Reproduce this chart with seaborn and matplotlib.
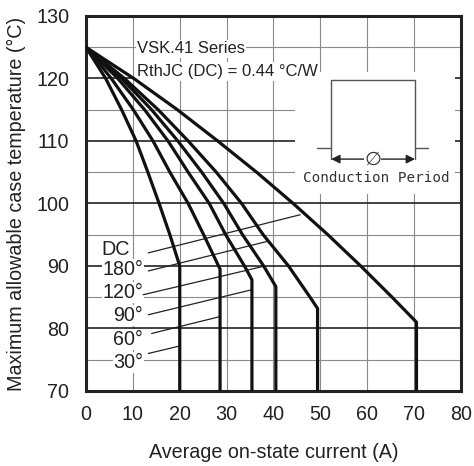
import matplotlib
matplotlib.use("Agg")
import matplotlib.pyplot as plt
import seaborn as sns
import pandas as pd
from matplotlib.patches import Rectangle
from matplotlib.ticker import MultipleLocator

# ---- data ----
series_names = ["30°", "60°", "90°", "120°", "180°", "DC"]
cur_30 = [0, 4.2, 7.6, 10.7, 13.2, 15.6, 17.9, 20.0, 20.0]
tmp_30 = [125, 120, 115, 110, 105, 100, 95, 90.0, 70]
cur_60 = [0, 5.4, 10.1, 14.3, 17.9, 21.8, 25.1, 28.6, 28.6]
tmp_60 = [125, 120, 115, 110, 105, 100, 95, 89.5, 70]
cur_90 = [0, 6.8, 12.5, 17.5, 21.8, 26.3, 29.8, 33.8, 35.4, 35.4]
tmp_90 = [125, 120, 115, 110, 105, 100, 95, 90, 87.8, 70]
cur_120 = [0, 7.6, 14.0, 19.6, 24.7, 29.4, 33.4, 37.9, 40.5, 40.5]
tmp_120 = [125, 120, 115, 110, 105, 100, 95, 90, 86.7, 70]
cur_180 = [0, 8.2, 15.4, 21.8, 27.8, 33.2, 37.8, 43.2, 47.8, 49.4, 49.4]
tmp_180 = [125, 120, 115, 110, 105, 100, 95, 90, 85, 83.2, 70]
cur_dc = [0, 10.2, 19.5, 28.1, 36.4, 44.2, 51.6, 58.6, 65.3, 70.5, 70.5]
tmp_dc = [125, 120, 115, 110, 105, 100, 95, 90, 85, 81.0, 70]

x_ticks = [0, 10, 20, 30, 40, 50, 60, 70, 80]
y_ticks = [70, 80, 90, 100, 110, 120, 130]

# label text, label anchor (right edge x, centre y), leader line start/end
label_x = [12.2, 12.2, 12.2, 12.2, 12.2, 9.4]
label_y = [74.6, 78.2, 82.1, 85.8, 89.4, 92.6]
lead_x0 = [13.3, 14.0, 13.3, 12.2, 13.3, 13.3]
lead_y0 = [76.0, 79.2, 82.2, 85.4, 89.2, 92.1]
lead_x1 = [20.0, 28.6, 35.4, 37.6, 38.5, 45.7]
lead_y1 = [77.2, 81.9, 86.2, 89.9, 93.9, 98.2]

curves = [(cur_30, tmp_30), (cur_60, tmp_60), (cur_90, tmp_90),
          (cur_120, tmp_120), (cur_180, tmp_180), (cur_dc, tmp_dc)]
rows = []
for name, (cx, ty) in zip(series_names, curves):
    for i, (a, b) in enumerate(zip(cx, ty)):
        rows.append({"series": name, "order": i, "I": a, "T": b})
df = pd.DataFrame(rows)

sns.set_style("white")
plt.rcParams["font.family"] = ["Liberation Sans", "DejaVu Sans"]

fig = plt.figure(figsize=(4.74, 4.66), dpi=100)
ax = fig.add_axes([0.1814, 0.161, 0.7912, 0.8047])

sns.lineplot(data=df, x="I", y="T", hue="series", units="series",
             estimator=None, sort=False, palette=["#111111"] * 6,
             linewidth=2.3, legend=False, ax=ax, zorder=4)

ax.set_xlim(0, 80)
ax.set_ylim(70, 130)
ax.set_xticks(x_ticks)
ax.set_yticks(y_ticks)
ax.yaxis.set_minor_locator(MultipleLocator(5))
ax.set_axisbelow(True)
ax.grid(which="major", axis="x", color="#8a8a8a", linewidth=0.8)
ax.grid(which="major", axis="y", color="#222222", linewidth=1.2)
ax.grid(which="minor", axis="y", color="#8a8a8a", linewidth=0.8)
ax.tick_params(axis="both", which="both", length=0, labelsize=14.2,
               colors="#222222")
ax.tick_params(axis="x", pad=10)
ax.tick_params(axis="y", pad=12)
for s in ax.spines.values():
    s.set_visible(True)
    s.set_linewidth(2.2)
    s.set_color("#222222")

ax.set_xlabel("Average on-state current (A)", fontsize=14.2, labelpad=14,
              color="#222222")
ax.set_ylabel("Maximum allowable case temperature (°C)", fontsize=14.2,
              labelpad=7, color="#222222")

# series labels + leader lines
for name, lx, ly, x0, y0, x1, y1 in zip(series_names, label_x, label_y,
                                        lead_x0, lead_y0, lead_x1, lead_y1):
    ax.text(lx, ly, name, ha="right", va="center", fontsize=14.2,
            color="#222222", zorder=3,
            bbox=dict(facecolor="white", edgecolor="none", pad=0.5))
    ax.plot([x0, x1], [y0, y1], color="#222222", linewidth=0.9, zorder=3)

# title annotations
ax.text(10.9, 124.0, "VSK.41 Series", fontsize=12, ha="left",
        va="baseline", color="#222222", zorder=3,
        bbox=dict(facecolor="white", edgecolor="none", pad=1.0))
ax.text(10.9, 120.4, "RthJC (DC) = 0.44 °C/W", fontsize=12, ha="left",
        va="baseline", color="#222222", zorder=3,
        bbox=dict(facecolor="white", edgecolor="none", pad=1.5))

# conduction period inset
ax.add_patch(Rectangle((44.6, 101.5), 34.1, 19.5, facecolor="white",
                       edgecolor="none", zorder=1.5))
pc = "#555555"
ax.plot([52.3, 52.3, 70.2, 70.2], [107.1, 119.8, 119.8, 107.1],
        color=pc, linewidth=1.0, zorder=3)
ax.plot([49.3, 52.3], [108.9, 108.9], color=pc, linewidth=1.0, zorder=3)
ax.plot([70.2, 73.0], [108.9, 108.9], color=pc, linewidth=1.0, zorder=3)
ax.annotate("", xy=(52.3, 107.1), xytext=(70.2, 107.1),
            arrowprops=dict(arrowstyle="<|-|>", color="#222222", lw=1.0,
                            mutation_scale=13, shrinkA=0, shrinkB=0),
            zorder=3)
ax.text(61.2, 107.1, "∅", ha="center", va="center", fontsize=14,
        family="DejaVu Sans", color="#333333", zorder=4,
        bbox=dict(facecolor="white", edgecolor="none", pad=0.0))
ax.text(61.9, 104.1, "Conduction Period", ha="center", va="center",
        fontsize=10.3, family="DejaVu Sans Mono", color="#333333", zorder=3)

fig.savefig("out.png", dpi=100)
